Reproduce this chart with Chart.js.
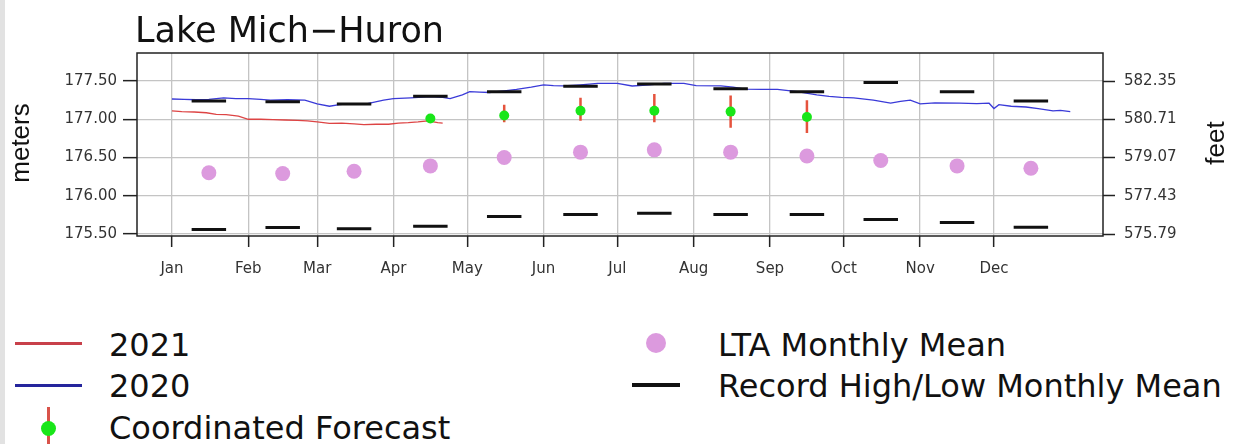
<!DOCTYPE html>
<html>
<head>
<meta charset="utf-8">
<script src="https://cdn.jsdelivr.net/npm/chart.js@4"></script>
<style>
body { margin: 0; background: #fff; }
#wrap { position: relative; width: 1233px; height: 444px; overflow: hidden; font-family: 'DejaVu Sans'; color: #111; }
#chartBox { position: absolute; left: 0; top: 0; width: 1233px; height: 290px; }
.strip { position: absolute; left: 0; top: 0; width: 5px; height: 444px; background: #e2e2e2; }
.lg { position: absolute; font-size: 32px; line-height: 32px; white-space: nowrap; }
.sym { position: absolute; }
</style>
</head>
<body>
<div id="wrap">
	<div id="chartBox"><canvas id="lake"></canvas></div>
	<div class="strip"></div>

	<div class="sym" style="left:15px;top:342px;width:67px;height:3px;background:#c8404a"></div>
	<div class="lg" style="left:109px;top:329px">2021</div>
	<div class="sym" style="left:15px;top:384px;width:67px;height:3px;background:#25259c"></div>
	<div class="lg" style="left:109px;top:370px">2020</div>
	<div class="sym" style="left:47px;top:407px;width:3px;height:37px;background:#d9534a"></div>
	<div class="sym" style="left:41px;top:421px;width:15px;height:15px;border-radius:50%;background:#19e619"></div>
	<div class="lg" style="left:109px;top:412px">Coordinated Forecast</div>

	<div class="sym" style="left:646px;top:333px;width:20px;height:20px;border-radius:50%;background:#dc9ade"></div>
	<div class="lg" style="left:718px;top:329px">LTA Monthly Mean</div>
	<div class="sym" style="left:632px;top:383px;width:48px;height:4px;background:#111"></div>
	<div class="lg" style="left:718px;top:370px">Record High/Low Monthly Mean</div>
</div>
<script>
// months (day of year)
var monthNames = ["Jan", "Feb", "Mar", "Apr", "May", "Jun", "Jul", "Aug", "Sep", "Oct", "Nov", "Dec"];
var monthStarts = [0, 31, 59, 90, 120, 151, 181, 212, 243, 273, 304, 334];
var monthMids = [15, 45, 74, 105, 135, 166, 196, 227, 258, 288, 319, 349];
var meterTicks = [175.5, 176.0, 176.5, 177.0, 177.5];

// daily levels, meters
var days2021 = [0, 4, 9, 14, 18, 22, 27, 31, 36, 41, 46, 51, 55, 59, 64, 69, 74, 78, 83, 88, 92, 96, 100, 104, 108, 110];
var level2021 = [177.11, 177.10, 177.095, 177.085, 177.065, 177.06, 177.04, 177.00, 177.00, 176.995, 176.99, 176.985, 176.98,
	176.965, 176.945, 176.95, 176.94, 176.93, 176.935, 176.935, 176.95, 176.955, 176.965, 176.98, 176.955, 176.95];

var days2020 = [0, 5, 10, 15, 21, 26, 31, 36, 40, 47, 54, 59, 64, 68, 72, 79, 86, 90, 97, 105, 110, 113, 118, 121, 125, 129,
	135, 140, 146, 151, 155, 159, 166, 173, 181, 187, 194, 200, 208, 213, 223, 228, 233, 240, 246, 254, 262, 267, 272, 277,
	285, 292, 296, 300, 304, 310, 320, 327, 332, 334, 336, 341, 347, 352, 358, 361, 365];
var level2020 = [177.265, 177.26, 177.255, 177.26, 177.28, 177.27, 177.27, 177.26, 177.25, 177.255, 177.25, 177.20, 177.17,
	177.19, 177.20, 177.20, 177.25, 177.27, 177.28, 177.295, 177.285, 177.27, 177.32, 177.36, 177.355, 177.35,
	177.37, 177.39, 177.42, 177.45, 177.44, 177.435, 177.45, 177.47, 177.47, 177.435, 177.45, 177.47, 177.47, 177.44,
	177.435, 177.42, 177.395, 177.39, 177.39, 177.36, 177.32, 177.30, 177.285, 177.28,
	177.25, 177.21, 177.235, 177.25, 177.20, 177.215, 177.21, 177.205, 177.21, 177.14, 177.19, 177.17, 177.16, 177.14,
	177.11, 177.115, 177.10];

// monthly stats
var recordHigh = [177.24, 177.23, 177.20, 177.30, 177.36, 177.43, 177.46, 177.40, 177.36, 177.48, 177.36, 177.24];
var recordLow = [175.56, 175.585, 175.57, 175.60, 175.73, 175.755, 175.77, 175.755, 175.755, 175.69, 175.65, 175.59];
var ltaMean = [176.30, 176.29, 176.32, 176.39, 176.50, 176.57, 176.60, 176.57, 176.52, 176.46, 176.39, 176.36];

// coordinated forecast, Apr - Sep
var forecastMonths = [3, 4, 5, 6, 7, 8];
var forecastMid = [177.01, 177.05, 177.11, 177.11, 177.10, 177.03];
var forecastLow = [177.00, 176.96, 176.98, 176.96, 176.89, 176.82];
var forecastHigh = [177.02, 177.19, 177.28, 177.33, 177.31, 177.25];

var barHalf = 7;

function pts(xs, ys) {
	return xs.map(function (x, i) { return {x: x, y: ys[i]}; });
}
function monthBars(vals) {
	return vals.flatMap(function (v, i) {
		var m = monthMids[i];
		return [{x: m - barHalf, y: v}, {x: m + barHalf, y: v}, {x: m + barHalf, y: null}];
	});
}

var errBars = forecastMonths.flatMap(function (m, i) {
	return [{x: monthMids[m], y: forecastLow[i]}, {x: monthMids[m], y: forecastHigh[i]}, {x: monthMids[m], y: null}];
});
var forecastPts = forecastMonths.map(function (m, i) { return {x: monthMids[m], y: forecastMid[i]}; });

var decorations = {
	id: 'decorations',
	afterDatasetsDraw: function (chart) {
		var ctx = chart.ctx, a = chart.chartArea;
		ctx.save();
		ctx.strokeStyle = '#222';
		ctx.lineWidth = 1.5;
		ctx.strokeRect(a.left, a.top, a.right - a.left, a.bottom - a.top);
		ctx.fillStyle = '#111';
		ctx.font = '35px "DejaVu Sans"';
		ctx.textBaseline = 'alphabetic';
		ctx.fillText('Lake Mich\u2212Huron', a.left - 2, 42);
		ctx.font = '26px "Liberation Sans"';
		ctx.textAlign = 'center';
		ctx.textBaseline = 'middle';
		ctx.translate(22, 143);
		ctx.rotate(-Math.PI / 2);
		ctx.fillText('meters', 0, 0);
		ctx.restore();
		ctx.save();
		ctx.fillStyle = '#111';
		ctx.font = '26px "Liberation Sans"';
		ctx.textAlign = 'center';
		ctx.textBaseline = 'middle';
		ctx.translate(1217, 143);
		ctx.rotate(-Math.PI / 2);
		ctx.fillText('feet', 0, 0);
		ctx.restore();
	}
};

Chart.defaults.font.family = 'DejaVu Sans';
Chart.defaults.color = '#333';

var config = {
	type: 'line',
	data: {
		datasets: [{
			label: "Coordinated Forecast",
			data: forecastPts,
			showLine: false,
			pointRadius: 5,
			pointBackgroundColor: "#19e619",
			pointBorderWidth: 0
		}, {
			label: "Forecast range",
			data: errBars,
			borderColor: "#e5533d",
			borderWidth: 2.5,
			pointRadius: 0
		}, {
			label: "Record Low",
			data: monthBars(recordLow),
			borderColor: "#111",
			borderWidth: 3,
			pointRadius: 0
		}, {
			label: "Record High",
			data: monthBars(recordHigh),
			borderColor: "#111",
			borderWidth: 3,
			pointRadius: 0
		}, {
			label: "LTA Monthly Mean",
			data: pts(monthMids, ltaMean),
			showLine: false,
			pointRadius: 7.5,
			pointBackgroundColor: "#dc9ade",
			pointBorderWidth: 0
		}, {
			label: "2020",
			data: pts(days2020, level2020),
			borderColor: "#3a3ad8",
			borderWidth: 1.3,
			pointRadius: 0
		}, {
			label: "2021",
			data: pts(days2021, level2021),
			borderColor: "#dd4444",
			borderWidth: 1.3,
			pointRadius: 0
		}]
	},
	options: {
		responsive: true,
		maintainAspectRatio: false,
		animation: false,
		layout: {padding: {top: 53, left: 0, right: 0, bottom: 0}},
		plugins: {legend: {display: false}, tooltip: {enabled: false}},
		scales: {
			x: {
				type: 'linear',
				min: -14.2,
				max: 378.3,
				afterBuildTicks: function (s) { s.ticks = monthStarts.map(function (v) { return {value: v}; }); },
				afterFit: function (s) { s.height = 54; },
				border: {display: false},
				grid: {color: '#c4c4c4', lineWidth: 1.3, tickColor: '#222', tickLength: 11, tickWidth: 1.5},
				ticks: {
					font: {size: 15}, padding: 13, maxRotation: 0, autoSkip: false,
					callback: function (v, i) { return monthNames[i]; }
				}
			},
			y: {
				min: 175.474,
				max: 177.866,
				afterBuildTicks: function (s) { s.ticks = meterTicks.map(function (v) { return {value: v}; }); },
				afterFit: function (s) { s.width = 137; },
				border: {display: false},
				grid: {color: '#c4c4c4', lineWidth: 1.3, tickColor: '#222', tickLength: 14, tickWidth: 1.5},
				ticks: {
					font: {size: 15}, padding: 6,
					callback: function (v) { return v.toFixed(2); }
				}
			},
			y2: {
				position: 'right',
				min: 175.474,
				max: 177.866,
				afterBuildTicks: function (s) { s.ticks = meterTicks.map(function (v) { return {value: v}; }); },
				afterFit: function (s) { s.width = 130; },
				border: {display: false},
				grid: {drawOnChartArea: false, tickColor: '#222', tickLength: 12, tickWidth: 1.5},
				ticks: {
					font: {size: 15}, padding: 9,
					callback: function (v) { return (v * 3.28084).toFixed(2); }
				}
			}
		}
	},
	plugins: [decorations]
};

var ctx = document.getElementById("lake").getContext("2d");
window.lakeChart = new Chart(ctx, config);
</script>
</body>
</html>
